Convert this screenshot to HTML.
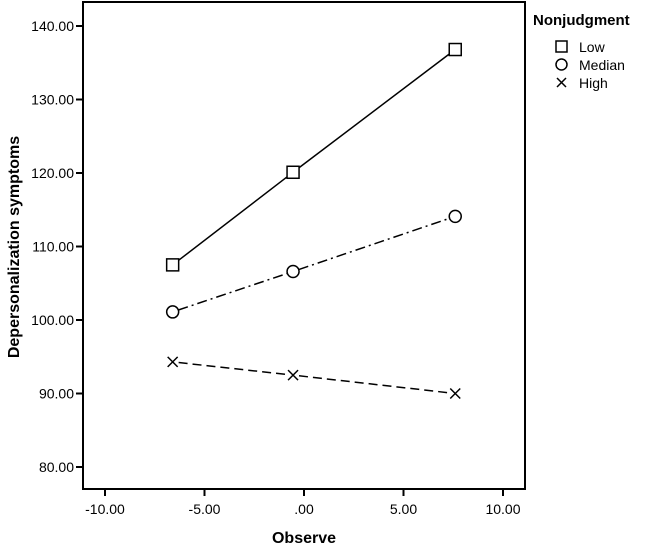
<!DOCTYPE html>
<html><head><meta charset="utf-8"><style>
body{margin:0;background:#fff;}
svg text{font-family:"Liberation Sans",Arial,sans-serif;fill:#000;}
</style></head><body>
<svg id="chart" width="645" height="547" xmlns="http://www.w3.org/2000/svg">
<rect x="83" y="2" width="442" height="487" fill="#fff" stroke="#000" stroke-width="2"/>
<g id="axes"></g>
<g id="series"></g>
<text x="304" y="543" text-anchor="middle" font-weight="bold" font-size="16">Observe</text>
<text transform="translate(19,247) rotate(-90)" text-anchor="middle" font-weight="bold" font-size="16">Depersonalization symptoms</text>
<g>
<text x="533" y="25" font-weight="bold" font-size="15">Nonjudgment</text>
<g><rect x="556" y="41" width="11" height="11" fill="none" stroke="#000" stroke-width="1.5"/><text x="579" y="52" font-size="14">Low</text></g>
<g><circle cx="561.5" cy="64.5" r="5.5" fill="none" stroke="#000" stroke-width="1.5"/><text x="579" y="70" font-size="14">Median</text></g>
<g><path d="M557,78 L566,87 M566,78 L557,87" stroke="#000" stroke-width="1.5"/><text x="579" y="88" font-size="14">High</text></g>
</g>
</svg>
<script>
const xValues = [-6.6, -0.55, 7.6];
const lowValues = [107.5, 120.1, 136.8];
const medianValues = [101.1, 106.6, 114.1];
const highValues = [94.3, 92.5, 90.0];
const xTicks = [-10, -5, 0, 5, 10];
const xTickLabels = ["-10.00", "-5.00", ".00", "5.00", "10.00"];
const yTicks = [80, 90, 100, 110, 120, 130, 140];
const yTickLabels = ["80.00", "90.00", "100.00", "110.00", "120.00", "130.00", "140.00"];

const NS = "http://www.w3.org/2000/svg";
function xs(v){ return 304 + v * 19.9; }
function ys(v){ return 467 - (v - 80) * 7.35; }
function mk(tag, attrs, parent){ const e=document.createElementNS(NS,tag); for(const k in attrs) e.setAttribute(k,attrs[k]); parent.appendChild(e); return e; }

const axes = document.getElementById('axes');
xTicks.forEach((t,i)=>{
  const l = mk('line',{x1:xs(t),x2:xs(t),y1:489,y2:496,stroke:'#000','stroke-width':2},axes);
  
  
  const tx = mk('text',{x:xs(t),y:514,'text-anchor':'middle','font-size':14},axes);
  tx.textContent = xTickLabels[i];
  
  
});
yTicks.forEach((t,i)=>{
  const l = mk('line',{x1:76,x2:83,y1:ys(t),y2:ys(t),stroke:'#000','stroke-width':2},axes);
  
  
  const tx = mk('text',{x:74,y:ys(t)+5,'text-anchor':'end','font-size':14},axes);
  tx.textContent = yTickLabels[i];
  
  
});

const ser = document.getElementById('series');
function drawSeries(vals, dash, marker, name){
  const g = mk('g',{},ser);
  
  
  const r = 6;
  for(let i=0;i<vals.length-1;i++){
    const x1=xs(xValues[i]), y1=ys(vals[i]), x2=xs(xValues[i+1]), y2=ys(vals[i+1]);
    const dx=x2-x1, dy=y2-y1, L=Math.hypot(dx,dy), ux=dx/L, uy=dy/L;
    mk('line',{x1:x1+ux*r,y1:y1+uy*r,x2:x2-ux*r,y2:y2-uy*r,stroke:'#000','stroke-width':1.5,'stroke-dasharray':dash},g);
  }
  vals.forEach((v,i)=>{
    const cx=xs(xValues[i]), cy=ys(v);
    let m;
    if(marker==='square') m=mk('rect',{x:cx-6,y:cy-6,width:12,height:12,fill:'#fff',stroke:'#000','stroke-width':1.5},g);
    else if(marker==='circle') m=mk('circle',{cx:cx,cy:cy,r:6,fill:'#fff',stroke:'#000','stroke-width':1.5},g);
    else m=mk('path',{d:`M${cx-5},${cy-5}L${cx+5},${cy+5}M${cx+5},${cy-5}L${cx-5},${cy+5}`,stroke:'#000','stroke-width':1.5},g);
    
    
  });
}
drawSeries(lowValues,'none','square','series-low');
drawSeries(medianValues,'10 4 2 4','circle','series-median');
drawSeries(highValues,'9 5','x','series-high');
</script>
</body></html>
